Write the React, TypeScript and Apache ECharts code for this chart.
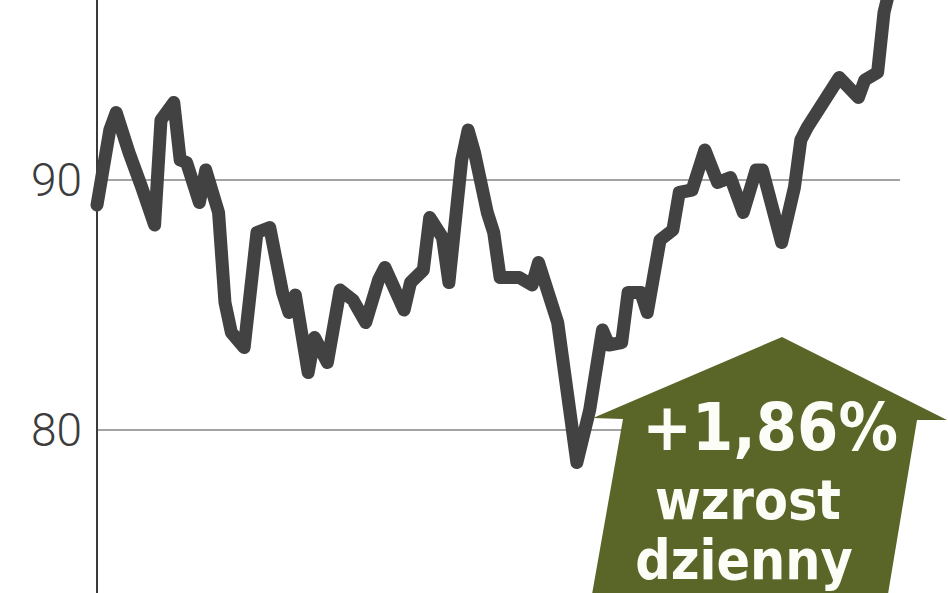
import React, { useEffect, useRef } from 'react'
import * as echarts from 'echarts'

// trading session index and closing value
const days = [0, 2, 3, 5, 7, 9, 10, 12, 13, 14, 16, 17, 19, 20, 21, 23, 25, 27, 29, 30,
    31, 33, 34, 36, 38, 40, 42, 44, 45, 48, 49, 51, 52, 54, 55, 57, 58, 59, 61, 62,
    63, 66, 68, 69, 70, 72, 75, 77, 79, 80, 82, 83, 85, 86, 88, 90, 91, 93, 95, 97,
    99, 101, 103, 104, 107, 109, 110, 111, 116, 119, 120, 122, 123, 125]
const closes = [89.0, 92.0, 92.7, 91.1, 89.7, 88.2, 92.4, 93.1, 90.8, 90.7,
    89.1, 90.4, 88.7, 85.1, 83.9, 83.3, 87.9, 88.1, 85.5, 84.7,
    85.4, 82.3, 83.7, 82.7, 85.6, 85.2, 84.3, 86.0, 86.5, 84.8,
    85.9, 86.4, 88.5, 87.7, 85.9, 90.8, 92.0, 91.1, 88.7, 87.9,
    86.1, 86.1, 85.8, 86.7, 85.9, 84.3, 78.7, 80.8, 84.0, 83.4,
    83.5, 85.5, 85.5, 84.7, 87.6, 88.0, 89.5, 89.6, 91.2, 89.9,
    90.1, 88.7, 90.4, 90.4, 87.5, 89.7, 91.6, 92.1, 94.1, 93.3,
    94.0, 94.3, 96.7, 98.8]

const yMin = 70
const yMax = 100
const yStep = 10
const dayMax = 125.5

const changeText = '+1,86%'
const captionLines = ['wzrost', 'dzienny']

// the chart is taller than the page: 70..100 spans 750px, only ~73.5..97 is visible
const OFFSET_TOP = 70

const App: React.FC = () => {
    const chartRef = useRef<HTMLDivElement | null>(null)

    useEffect(() => {
        if (!chartRef.current) return
        const chart = echarts.init(chartRef.current, undefined, { renderer: 'svg' })

        const arrowFont = '"DejaVu Sans Condensed", "DejaVu Sans", sans-serif'
        const oy = OFFSET_TOP

        const caption = (text: string, x: number, y: number, size: number) => ({
            type: 'text',
            z: 11,
            x,
            y: y + oy,
            style: {
                text,
                fill: '#fdfdf8',
                fontSize: size,
                fontWeight: 'bold',
                fontFamily: arrowFont,
                align: 'center',
                verticalAlign: 'middle',
            },
        })

        chart.setOption({
            animation: false,
            grid: { left: 97, right: 48, top: 0, bottom: 0, containLabel: false, outerBoundsMode: 'none' },
            xAxis: {
                type: 'value',
                min: 0,
                max: dayMax,
                show: false,
            },
            yAxis: {
                type: 'value',
                min: yMin,
                max: yMax,
                interval: yStep,
                axisLine: { show: true, lineStyle: { color: '#3a3a3a', width: 2 } },
                axisTick: { show: false },
                axisLabel: {
                    color: '#3c3c3c',
                    fontSize: 46,
                    fontWeight: 300,
                    fontFamily: 'Roboto, sans-serif',
                    margin: 15,
                    showMinLabel: false,
                    showMaxLabel: false,
                },
                splitLine: { lineStyle: { color: '#a3a3a3', width: 2 } },
            },
            series: [
                {
                    type: 'line',
                    data: days.map((d, i) => [d, closes[i]]),
                    symbol: 'none',
                    lineStyle: { color: '#424242', width: 13, cap: 'round', join: 'round' },
                    z: 3,
                },
            ],
            graphic: [
                {
                    type: 'polygon',
                    z: 10,
                    shape: {
                        points: [[593, 418 + oy], [782, 337 + oy], [947, 420 + oy], [917, 420 + oy],
                            [887, 600 + oy], [591, 600 + oy], [623, 419 + oy]],
                    },
                    style: { fill: '#5a6528' },
                },
                caption(changeText, 770, 427, 66),
                caption(captionLines[0], 748, 500, 55),
                caption(captionLines[1], 744, 560, 55),
            ],
        })

        return () => {
            chart.dispose()
        }
    }, [])

    return (
        <div style={{ position: 'fixed', left: 0, top: 0, width: 948, height: 593, overflow: 'hidden', background: '#fff' }}>
            <div ref={chartRef} style={{ position: 'absolute', left: 0, top: -OFFSET_TOP, width: 948, height: 750 }} />
        </div>
    )
}

export default App
